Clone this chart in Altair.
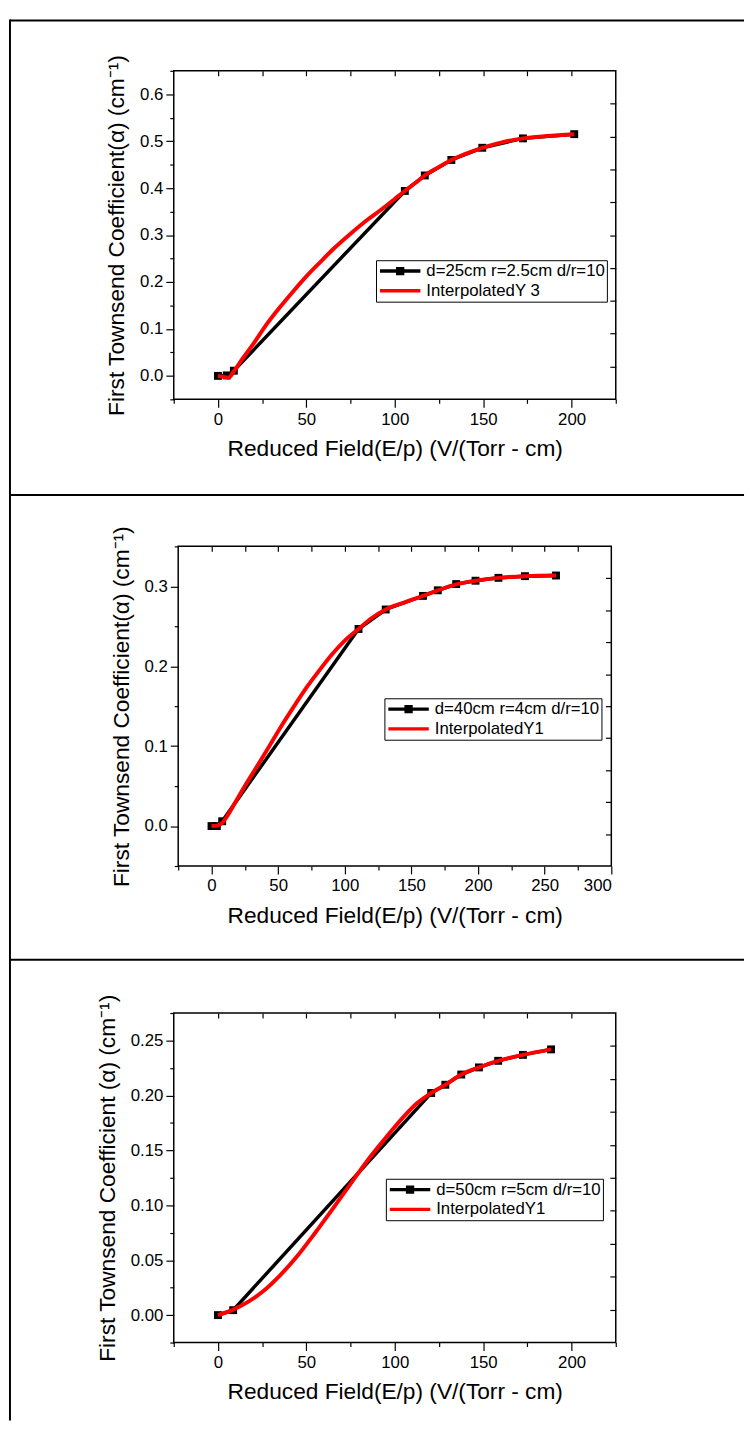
import altair as alt
import pandas as pd

XTITLE = "Reduced Field(E/p) (V/(Torr - cm)"

# ---------------- panel 1 ----------------
p1_black_name = "d=25cm r=2.5cm d/r=10"
p1_red_name = "InterpolatedY 3"
p1_black_x = [0, 5, 9, 105.7, 117, 132, 149.5, 172.5, 201.5]
p1_black_y = [0.0, 0.001, 0.011, 0.394, 0.427, 0.460, 0.486, 0.506, 0.515]
p1_red_x = [0, 3, 6, 9, 14, 20, 27, 35, 43, 50, 58, 66, 75, 84, 93, 100, 105.7,
            112, 117, 125, 132, 140, 149.5, 160, 172.5, 186, 201.5]
p1_red_y = [0.0, -0.002, -0.004, 0.010, 0.037, 0.068, 0.107, 0.146, 0.182, 0.212,
            0.243, 0.273, 0.303, 0.331, 0.356, 0.377, 0.394, 0.412, 0.427, 0.445,
            0.460, 0.473, 0.486, 0.497, 0.506, 0.511, 0.515]
p1_x_domain = [-25, 225]
p1_x_major = [0, 50, 100, 150, 200]
p1_x_minor = [-25, 25, 75, 125, 175, 225]
p1_x_top = [0, 25, 50, 75, 100, 125, 150, 175, 200]
p1_y_domain = [-0.05, 0.65]
p1_y_major = [0.0, 0.1, 0.2, 0.3, 0.4, 0.5, 0.6]
p1_y_minor = [-0.05, 0.05, 0.15, 0.25, 0.35, 0.45, 0.55, 0.65]
p1_y_title = "First Townsend Coefficient(α) (cm⁻¹)"

# ---------------- panel 2 ----------------
p2_black_name = "d=40cm r=4cm d/r=10"
p2_red_name = "InterpolatedY1"
p2_black_x = [0, 4, 8, 110.3, 130.7, 158.7, 169.8, 183.6, 198.1, 215.3, 235.2, 258.5]
p2_black_y = [0.0, 0.0, 0.006, 0.2466, 0.271, 0.288, 0.295, 0.3028, 0.307, 0.3106,
              0.3127, 0.3135]
p2_red_x = [0, 4, 8, 12, 18, 25, 35, 43, 52, 62, 72, 81, 90, 100, 110.3, 120,
            130.7, 145, 158.7, 169.8, 183.6, 198.1, 215.3, 235.2, 258.5]
p2_red_y = [0.0, 0.0005, 0.004, 0.013, 0.030, 0.050, 0.077, 0.099, 0.124, 0.150,
            0.175, 0.195, 0.214, 0.232, 0.2466, 0.260, 0.271, 0.280, 0.288, 0.295,
            0.3025, 0.307, 0.3106, 0.3127, 0.3135]
p2_x_domain = [-25, 300]
p2_x_major = [0, 50, 100, 150, 200, 250, 300]
p2_x_minor = [-25, 25, 75, 125, 175, 225, 275]
p2_x_top = [0, 25, 50, 75, 100, 125, 150, 175, 200, 225, 250, 275]
p2_y_domain = [-0.05, 0.35]
p2_y_major = [0.0, 0.1, 0.2, 0.3]
p2_y_minor = [-0.05, 0.05, 0.15, 0.25, 0.35]
p2_y_title = "First Townsend Coefficient(α) (cm⁻¹)"

# ---------------- panel 3 ----------------
p3_black_name = "d=50cm r=5cm d/r=10"
p3_red_name = "InterpolatedY1"
p3_black_x = [0, 8.6, 120.6, 128.6, 137.6, 147.6, 158.5, 172.5, 188.4]
p3_black_y = [0.0, 0.0045, 0.2022, 0.2097, 0.219, 0.2255, 0.2315, 0.2369, 0.2419]
p3_red_x = [0, 8.6, 17, 25, 35, 45, 55, 65, 74.8, 84.7, 94.7, 104.7, 112.7, 120.6,
            128.6, 137.6, 147.6, 158.5, 172.5, 188.4]
p3_red_y = [0.0, 0.005, 0.012, 0.021, 0.036, 0.054, 0.075, 0.097, 0.119, 0.141,
            0.161, 0.180, 0.193, 0.2022, 0.2097, 0.219, 0.2255, 0.2315, 0.2369,
            0.2419]
p3_x_domain = [-25, 225]
p3_x_major = [0, 50, 100, 150, 200]
p3_x_minor = [-25, 25, 75, 125, 175, 225]
p3_x_top = [0, 25, 50, 75, 100, 125, 150, 175, 200]
p3_y_domain = [-0.025, 0.275]
p3_y_major = [0.0, 0.05, 0.10, 0.15, 0.20, 0.25]
p3_y_minor = [-0.025, 0.025, 0.075, 0.125, 0.175, 0.225, 0.275]
p3_y_title = "First Townsend Coefficient (α) (cm⁻¹)"

right_ticks = [1, 2, 3, 4, 5, 6, 7, 8, 9]

SQ_PATH = "M-1,0L1,0M-0.12,-0.12L0.12,-0.12L0.12,0.12L-0.12,0.12Z"
LINE_PATH = "M-1,0L1,0"


def panel(bx, by, rx, ry, bname, rname, xdom, xmaj, xmin, xtop,
          ydom, ymaj, ymin, yfmt, ytitle, w, h, lx, ly, fr):
    black = pd.DataFrame({"x": bx, "y": by})
    red = pd.DataFrame({"x": rx, "y": ry})
    xs = alt.Scale(domain=xdom, nice=False, zero=False)
    ys = alt.Scale(domain=ydom, nice=False, zero=False)

    l1 = alt.Chart(black).mark_line(color="black", strokeWidth=3.5).encode(
        x=alt.X("x:Q", scale=xs, title=XTITLE,
                axis=alt.Axis(orient="bottom", values=xmaj, tickSize=8,
                              labelPadding=4, titlePadding=11, format="d")),
        y=alt.Y("y:Q", scale=ys, title=ytitle,
                axis=alt.Axis(orient="left", values=ymaj, tickSize=8,
                              labelPadding=3, titlePadding=11, format=yfmt)),
    )
    l2 = alt.Chart(black).mark_square(color="black", size=64, opacity=1).encode(
        x=alt.X("x:Q", scale=xs,
                axis=alt.Axis(orient="bottom", values=xmin, tickSize=4,
                              labels=False, title=None)),
        y=alt.Y("y:Q", scale=ys,
                axis=alt.Axis(orient="left", values=ymin, tickSize=4,
                              labels=False, title=None)),
    )
    l3 = alt.Chart(red).mark_line(color="#ff0000", strokeWidth=4,
                                  interpolate="monotone").encode(
        x=alt.X("x:Q", scale=xs,
                axis=alt.Axis(orient="top", values=xtop, tickSize=5, offset=-5,
                              labels=False, title=None)),
        y=alt.Y("y:Q", scale=ys, axis=None),
    )
    leg = alt.Legend(title=None, orient="none", legendX=lx, legendY=ly,
                     strokeColor="black", fillColor="white", padding=2,
                     labelFontSize=17, labelLimit=400, labelOffset=4,
                     labelColor="black", symbolSize=1681, symbolStrokeWidth=3.5,
                     symbolOpacity=1, clipHeight=18, rowPadding=2)
    legdf = pd.DataFrame({"series": [bname, rname]})
    l4 = alt.Chart(legdf).mark_point(opacity=0, filled=False, strokeWidth=3.5).encode(
        color=alt.Color("series:N",
                        scale=alt.Scale(domain=[bname, rname], range=["black", "#ff0000"]),
                        legend=leg),
        shape=alt.Shape("series:N",
                        scale=alt.Scale(domain=[bname, rname], range=[SQ_PATH, LINE_PATH]),
                        legend=leg),
    )
    rdf = pd.DataFrame({"r": [0, 10]})
    l5 = alt.Chart(rdf).mark_point(opacity=0).encode(
        y=alt.Y("r:Q", scale=alt.Scale(domain=[0, 10], nice=False, zero=False),
                axis=alt.Axis(orient="right", values=right_ticks, tickSize=6,
                              offset=-6, labels=False, title=None)),
    )
    one = pd.DataFrame({"k": [0]})
    r1 = alt.Chart(one).mark_rule(color="black", strokeWidth=2).encode(
        x=alt.value(fr[0]), x2=alt.value(fr[1]), y=alt.value(fr[2]))
    r2 = alt.Chart(one).mark_rule(color="black", strokeWidth=2).encode(
        x=alt.value(fr[0]), y=alt.value(fr[2] - 1), y2=alt.value(fr[3]))
    return alt.layer(l1, l2, l3, l4, l5, r1, r2).resolve_scale(
        y="independent").resolve_axis(x="independent", y="independent").properties(
        width=w, height=h)


P1 = panel(p1_black_x, p1_black_y, p1_red_x, p1_red_y, p1_black_name, p1_red_name,
           p1_x_domain, p1_x_major, p1_x_minor, p1_x_top,
           p1_y_domain, p1_y_major, p1_y_minor, ".1f", p1_y_title,
           448, 333, 205, 192, (-166, 578, -51, 430))
P2 = panel(p2_black_x, p2_black_y, p2_red_x, p2_red_y, p2_black_name, p2_red_name,
           p2_x_domain, p2_x_major, p2_x_minor, p2_x_top,
           p2_y_domain, p2_y_major, p2_y_minor, ".1f", p2_y_title,
           439, 324, 209, 154, (-170.5, 573.5, -52, 419))
P3 = panel(p3_black_x, p3_black_y, p3_red_x, p3_red_y, p3_black_name, p3_red_name,
           p3_x_domain, p3_x_major, p3_x_minor, p3_x_top,
           p3_y_domain, p3_y_major, p3_y_minor, ".2f", p3_y_title,
           448, 334, 215, 168, (-166, 578, -54, 413))

chart = alt.vconcat(P1, P2, P3, spacing=149, bounds="flush", center=True).resolve_scale(
    color="independent", shape="independent").properties(padding=0).configure(
    font="Liberation Sans").configure_view(stroke="black", strokeWidth=1.5).configure_axis(
    labelColor="black", titleColor="black", tickColor="black", tickWidth=1.2,
    labelFont="Liberation Sans", titleFont="Liberation Sans", titleFontWeight="normal",
    grid=False, domain=False, labelFontSize=17, titleFontSize=23).configure_legend(
    labelFont="Liberation Sans")

chart.save("out.html", embed_options={"renderer": "svg", "actions": False})
